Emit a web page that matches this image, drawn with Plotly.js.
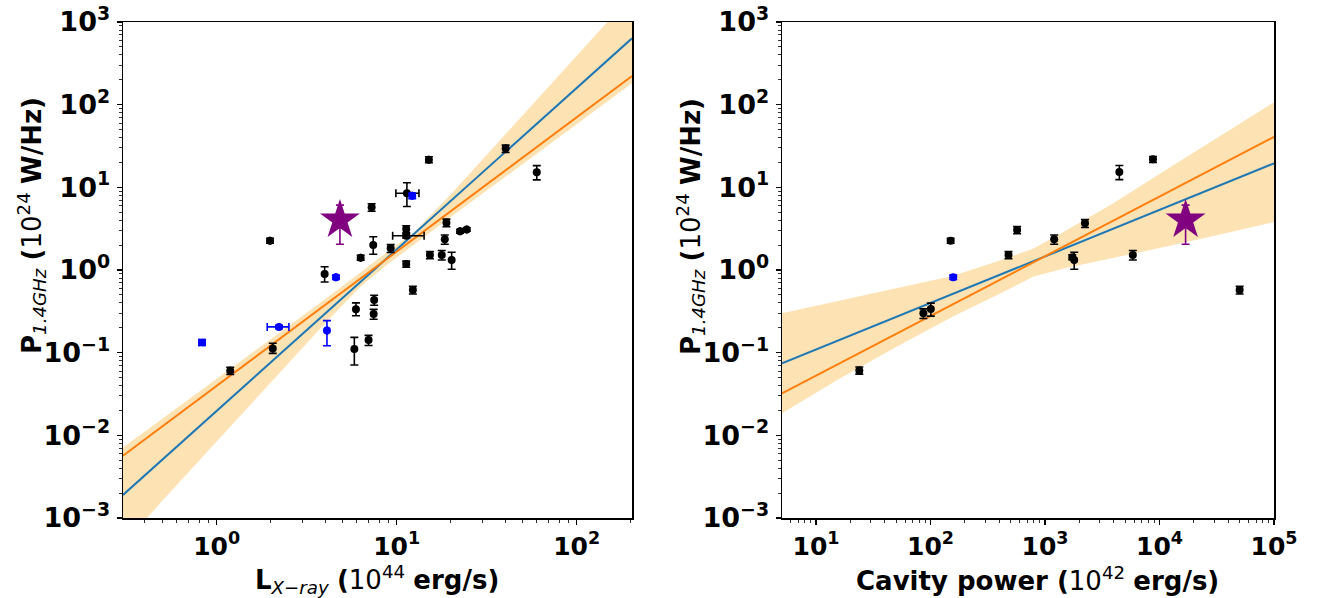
<!DOCTYPE html>
<html><head><meta charset="utf-8">
<script src="https://cdn.plot.ly/plotly-3.0.1.min.js"></script>
<style>html,body{margin:0;padding:0;background:#fff}#chart{width:1331px;height:598px}</style>
</head><body><div id="chart"></div>
<script>
// ---- Left panel: X-ray luminosity (1e44 erg/s) vs P1.4GHz (1e24 W/Hz)
const lxBlackX = [1.19, 2.05, 1.98, 3.98, 5.82, 5.94, 6.31, 6.98, 7.26, 7.41, 7.5, 7.45, 9.26, 11.4, 11.3, 11.3, 11.3, 12.3, 15.1, 15.3, 17.8, 18.5, 18.9, 20.2, 22.5, 24.5, 40.3, 60];
const lxBlackY = [0.0605, 0.112, 2.26, 0.895, 0.111, 0.334, 1.41, 0.142, 5.73, 2.01, 0.434, 0.294, 1.83, 8.47, 3.13, 2.6, 1.18, 0.573, 21.6, 1.52, 1.52, 2.35, 3.73, 1.32, 2.94, 3.1, 29.4, 15.2];
const lxBlackYErrPlus  = [0.006, 0.018, 0.15, 0.2, 0.042, 0.066, 0.1, 0.02, 0.6, 0.52, 0.06, 0.04, 0.2, 2.9, 0.3, 0.15, 0.1, 0.06, 1.8, 0.15, 0.2, 0.3, 0.4, 0.32, 0.15, 0.15, 3, 3.1];
const lxBlackYErrMinus = [0.006, 0.014, 0.15, 0.18, 0.04, 0.054, 0.1, 0.02, 0.6, 0.46, 0.06, 0.04, 0.2, 2.6, 0.3, 0.15, 0.1, 0.06, 1.8, 0.15, 0.2, 0.3, 0.4, 0.3, 0.15, 0.15, 3, 2.9];
const lxBlackXErrPlus  = [0, 0, 0, 0, 0, 0, 0, 0, 0, 0, 0, 0, 0, 1.9, 0, 2.9, 0, 0, 0, 0, 0, 0, 0, 0, 0, 0, 0, 0];
const lxBlackXErrMinus = [0, 0, 0, 0, 0, 0, 0, 0, 0, 0, 0, 0, 0, 1.5, 0, 1.8, 0, 0, 0, 0, 0, 0, 0, 0, 0, 0, 0, 0];

const lxBlueX = [0.83, 2.22, 4.1, 4.6, 12.2];
const lxBlueY = [0.133, 0.205, 0.185, 0.816, 7.9];
const lxBlueYErrPlus  = [0.01, 0.01, 0.059, 0.05, 0.6];
const lxBlueYErrMinus = [0.01, 0.01, 0.064, 0.05, 0.6];
const lxBlueXErrPlus  = [0.03, 0.30, 0, 0, 0];
const lxBlueXErrMinus = [0.03, 0.31, 0, 0, 0];

const lxStarX = [4.84];
const lxStarY = [4.03];
const lxStarErrPlus = [2.07];
const lxStarErrMinus = [1.98];

const lxFitX = [0.302, 202.8];
const lxFitBlueY = [0.0019, 635];
const lxFitOrangeY = [0.00568, 222];

const lxBandX     = [0.302, 0.501, 1.0, 1.995, 3.98, 6.31, 8.91, 12.6, 19.95, 39.8, 79.4, 158.5, 202.8];
const lxBandUpper = [0.00714, 0.0159, 0.0478, 0.145, 0.441, 0.931, 1.63, 2.93, 8.17, 42.6, 228, 1186, 2128];
const lxBandLower = [0.000472, 0.00163, 0.00841, 0.0434, 0.223, 0.630, 1.17, 2.07, 4.39, 13.2, 40.0, 121, 181];

// ---- Right panel: cavity power (1e42 erg/s) vs P1.4GHz
const cpBlackX = [23.9, 86.7, 100.7, 150, 480, 571, 1203, 1730, 1800, 2235, 4460, 5850, 8770, 50100];
const cpBlackY = [0.061, 0.299, 0.337, 2.26, 1.52, 3.05, 2.35, 1.43, 1.32, 3.67, 15.3, 1.52, 21.8, 0.573];
const cpBlackErrPlus  = [0.006, 0.04, 0.06, 0.15, 0.15, 0.3, 0.3, 0.1, 0.32, 0.4, 3.1, 0.2, 1.8, 0.06];
const cpBlackErrMinus = [0.006, 0.04, 0.06, 0.15, 0.15, 0.3, 0.3, 0.1, 0.30, 0.4, 2.9, 0.2, 1.8, 0.06];

const cpBlueX = [158];
const cpBlueY = [0.816];
const cpBlueErr = [0.05];

const cpStarX = [16900];
const cpStarY = [4.03];
const cpStarErrPlus = [2.07];
const cpStarErrMinus = [1.98];

const cpFitX = [5.05, 100000];
const cpFitBlueY = [0.0743, 19.5];
const cpFitOrangeY = [0.0322, 40.7];

const cpBandX     = [5.05, 15.85, 50.1, 158.5, 398, 794, 1585, 3981, 10000, 31623, 100000];
const cpBandUpper = [0.299, 0.422, 0.596, 0.851, 1.29, 1.82, 3.09, 6.46, 14.5, 39.8, 107];
const cpBandLower = [0.0185, 0.0479, 0.117, 0.275, 0.513, 0.832, 1.07, 1.40, 1.84, 2.63, 3.80];

// ---- Tick labels and titles
const yTickVals = [1e-3, 1e-2, 1e-1, 1, 10, 100, 1000];
const yTickText = ['10<sup>\u22123</sup>', '10<sup>\u22122</sup>', '10<sup>\u22121</sup>', '10<sup>0</sup>', '10<sup>1</sup>', '10<sup>2</sup>', '10<sup>3</sup>'];
const lxTickVals = [1, 10, 100];
const lxTickText = ['10<sup>0</sup>', '10<sup>1</sup>', '10<sup>2</sup>'];
const cpTickVals = [10, 100, 1000, 10000, 100000];
const cpTickText = ['10<sup>1</sup>', '10<sup>2</sup>', '10<sup>3</sup>', '10<sup>4</sup>', '10<sup>5</sup>'];
const yTitleText = '<b>P</b><sub><i>1.4GHz</i></sub> <b>(</b>10<sup>24</sup> <b>W/Hz)</b>';
const lxTitleText = '<b>L</b><sub><i>X\u2212ray</i></sub> <b>(</b>10<sup>44</sup> <b>erg/s)</b>';
const cpTitleText = '<b>Cavity power (</b>10<sup>42</sup> <b>erg/s)</b>';

const BAND = 'rgb(253,226,179)';
const BLUE_LINE = '#1f77b4';
const ORANGE_LINE = '#ff7f0e';
const FONT = 'DejaVu Sans, Liberation Sans, sans-serif';

function errBar(plus, minus, color) {
  return {type: 'data', symmetric: false, array: plus, arrayminus: minus, color: color, thickness: 1.6, width: 4};
}

const traces = [];
function addPanel(xa, ya, bx, bl, bu, fx, fb, fo) {
  traces.push({x: bx, y: bl, xaxis: xa, yaxis: ya, mode: 'lines', line: {width: 0, color: BAND}, hoverinfo: 'skip', showlegend: false});
  traces.push({x: bx, y: bu, xaxis: xa, yaxis: ya, mode: 'lines', line: {width: 0, color: BAND}, fill: 'tonexty', fillcolor: BAND, hoverinfo: 'skip', showlegend: false});
  traces.push({x: fx, y: fb, xaxis: xa, yaxis: ya, mode: 'lines', line: {width: 2, color: BLUE_LINE}, showlegend: false});
  traces.push({x: fx, y: fo, xaxis: xa, yaxis: ya, mode: 'lines', line: {width: 2, color: ORANGE_LINE}, showlegend: false});
}
addPanel('x', 'y', lxBandX, lxBandLower, lxBandUpper, lxFitX, lxFitBlueY, lxFitOrangeY);
addPanel('x2', 'y2', cpBandX, cpBandLower, cpBandUpper, cpFitX, cpFitBlueY, cpFitOrangeY);

// left points
traces.push({x: lxBlackX, y: lxBlackY, xaxis: 'x', yaxis: 'y', mode: 'markers', marker: {color: 'black', size: 8},
  error_y: errBar(lxBlackYErrPlus, lxBlackYErrMinus, 'black'), error_x: errBar(lxBlackXErrPlus, lxBlackXErrMinus, 'black'), showlegend: false});
traces.push({x: lxBlueX, y: lxBlueY, xaxis: 'x', yaxis: 'y', mode: 'markers', marker: {color: '#0000ff', size: 8},
  error_y: errBar(lxBlueYErrPlus, lxBlueYErrMinus, '#0000ff'), error_x: errBar(lxBlueXErrPlus, lxBlueXErrMinus, '#0000ff'), showlegend: false});
traces.push({x: lxStarX, y: lxStarY, xaxis: 'x', yaxis: 'y', mode: 'markers', marker: {color: '#800080', size: 30, symbol: 'star', line: {width: 0}},
  error_y: errBar(lxStarErrPlus, lxStarErrMinus, '#800080'), showlegend: false});

// right points
traces.push({x: cpBlackX, y: cpBlackY, xaxis: 'x2', yaxis: 'y2', mode: 'markers', marker: {color: 'black', size: 8},
  error_y: errBar(cpBlackErrPlus, cpBlackErrMinus, 'black'), showlegend: false});
traces.push({x: cpBlueX, y: cpBlueY, xaxis: 'x2', yaxis: 'y2', mode: 'markers', marker: {color: '#0000ff', size: 8},
  error_y: errBar(cpBlueErr, cpBlueErr, '#0000ff'), showlegend: false});
traces.push({x: cpStarX, y: cpStarY, xaxis: 'x2', yaxis: 'y2', mode: 'markers', marker: {color: '#800080', size: 30, symbol: 'star', line: {width: 0}},
  error_y: errBar(cpStarErrPlus, cpStarErrMinus, '#800080'), showlegend: false});

const yTickFont = {family: FONT, size: 27, color: 'black', weight: 'bold'};
const xTickFont = {family: FONT, size: 25, color: 'black', weight: 'bold'};
const titleFont = {family: FONT, size: 26, color: 'black'};
function axisBase(tf, standoff) {
  return {type: 'log', showgrid: false, zeroline: false, showline: true, linecolor: 'black', linewidth: 1.5, mirror: true,
    ticks: 'outside', ticklen: 5, tickwidth: 1.2, tickcolor: 'black', tickmode: 'array', tickfont: tf, ticklabelstandoff: standoff,
    minor: {ticks: 'outside', ticklen: 3, tickwidth: 0.8, tickcolor: 'black', dtick: 'D1', showgrid: false},
    title: {text: ''}};
}

const layout = {
  width: 1331, height: 598, paper_bgcolor: 'white', plot_bgcolor: 'white',
  margin: {l: 0, r: 0, t: 0, b: 0}, showlegend: false,
  xaxis: Object.assign(axisBase(xTickFont, 0), {domain: [123/1331, 632/1331], range: [Math.log10(0.302), Math.log10(202.8)],
    tickvals: lxTickVals, ticktext: lxTickText, anchor: 'y'}),
  yaxis: Object.assign(axisBase(yTickFont, 1), {domain: [1 - 518/598, 1 - 22/598], range: [-3, 3],
    tickvals: yTickVals, ticktext: yTickText, anchor: 'x'}),
  xaxis2: Object.assign(axisBase(xTickFont, 0), {domain: [782/1331, 1274/1331], range: [Math.log10(5.05), 5],
    tickvals: cpTickVals, ticktext: cpTickText, anchor: 'y2'}),
  yaxis2: Object.assign(axisBase(yTickFont, 1), {domain: [1 - 518/598, 1 - 22/598], range: [-3, 3],
    tickvals: yTickVals, ticktext: yTickText, anchor: 'x2'}),
  annotations: [
    {text: yTitleText, xref: 'paper', yref: 'paper', x: 32/1331, y: 1 - 226/598, xanchor: 'center', yanchor: 'middle', textangle: -90, showarrow: false, font: titleFont},
    {text: yTitleText, xref: 'paper', yref: 'paper', x: 691/1331, y: 1 - 226/598, xanchor: 'center', yanchor: 'middle', textangle: -90, showarrow: false, font: titleFont},
    {text: lxTitleText, xref: 'paper', yref: 'paper', x: 377/1331, y: 1 - 579/598, xanchor: 'center', yanchor: 'middle', showarrow: false, font: titleFont},
    {text: cpTitleText, xref: 'paper', yref: 'paper', x: 1037/1331, y: 1 - 579/598, xanchor: 'center', yanchor: 'middle', showarrow: false, font: titleFont}
  ]
};

Plotly.newPlot('chart', traces, layout, {staticPlot: true, displayModeBar: false});
</script>
</body></html>
